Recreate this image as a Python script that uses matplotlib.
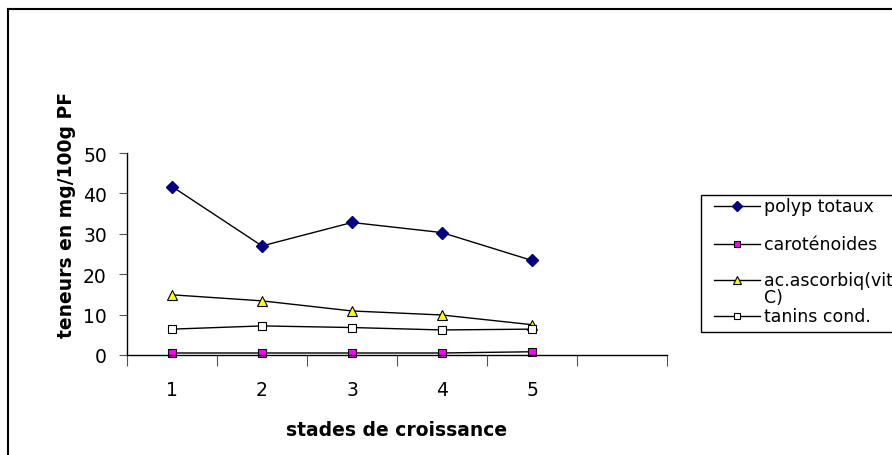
import matplotlib
matplotlib.use("Agg")
import matplotlib.pyplot as plt
from matplotlib.lines import Line2D
from matplotlib.patches import Rectangle

plt.rcParams['font.family'] = ['DejaVu Sans']

stades = [1, 2, 3, 4, 5]
categories = ["1", "2", "3", "4", "5", ""]
polyp_totaux = [41.7, 27.0, 32.8, 30.3, 23.4]
carotenoides = [0.5, 0.5, 0.5, 0.5, 0.8]
ac_ascorbiq = [14.9, 13.4, 10.9, 9.9, 7.5]
tanins_cond = [6.4, 7.2, 6.8, 6.2, 6.4]
labels = ["polyp totaux", "caroténoides", "ac.ascorbiq(vit\nC)", "tanins cond."]
yticks = [0, 10, 20, 30, 40, 50]

W, H = 892, 456
fig = plt.figure(figsize=(W / 100, H / 100), dpi=100)

def fx(px):
    return px / W

def fy(py):
    return 1 - py / H

# outer chart frame (top and left visible)
fig.add_artist(Line2D([fx(8), fx(8)], [fy(10), fy(460)], color='black', lw=1.5, transform=fig.transFigure))
fig.add_artist(Line2D([fx(8), fx(900)], [fy(10), fy(10)], color='black', lw=1.5, transform=fig.transFigure))

ax = fig.add_axes([fx(127), fy(356), fx(667) - fx(127), fy(154) - fy(356)])

styles = [
    dict(marker='D', mfc='#000080', mec='#000080', ms=6),
    dict(marker='s', mfc='#FF00FF', mec='black', ms=6, mew=0.8),
    dict(marker='^', mfc='#FFFF00', mec='black', ms=7, mew=0.8),
    dict(marker='s', mfc='white', mec='black', ms=6, mew=0.8),
]
series = [polyp_totaux, carotenoides, ac_ascorbiq, tanins_cond]
xs = [s - 0.5 for s in stades]
for vals, st in zip(series, styles):
    ax.plot(xs, vals, color='black', lw=1, clip_on=False, **st)

ax.set_xlim(0, len(categories))
ax.set_ylim(0, 50)
ax.set_yticks(yticks)
ax.set_yticklabels([str(v) for v in yticks], fontsize=13.5)
ax.set_xticks(range(len(categories) + 1))
ax.set_xticklabels([""] * (len(categories) + 1))
ax.set_xticks([c + 0.5 for c in range(len(categories))], minor=True)
ax.set_xticklabels(categories, minor=True, fontsize=13.5)
ax.tick_params(axis='x', which='minor', length=0, pad=18)
ax.tick_params(axis='x', which='major', length=8, direction='out', color='#555555')
ax.tick_params(axis='y', length=6, direction='out', color='#555555', pad=8.5)
for s in ['top', 'right']:
    ax.spines[s].set_visible(False)
ax.spines['left'].set_linewidth(1)
ax.spines['bottom'].set_linewidth(1)

ax.set_xlabel("stades de croissance", fontsize=13.5, fontweight='bold')
ax.xaxis.set_label_coords(0.5, (fy(421) - fy(356)) / (fy(154) - fy(356)))
ax.set_ylabel("teneurs en mg/100g PF", fontsize=13.5, fontweight='bold')
ax.yaxis.set_label_coords((fx(76) - fx(127)) / (fx(667) - fx(127)),
                          (fy(215) - fy(356)) / (fy(154) - fy(356)))

# legend box drawn manually to match layout
fig.add_artist(Rectangle((fx(701), fy(333)), fx(900) - fx(701), fy(196) - fy(333),
                         transform=fig.transFigure, fill=False, ec='black', lw=1))
entry_y = [207, 245, 281, 317]
for lab, st, ey in zip(labels, styles, entry_y):
    fig.add_artist(Line2D([fx(714), fx(760)], [fy(ey), fy(ey)], color='black', lw=1,
                          transform=fig.transFigure))
    st2 = dict(st)
    st2['ms'] = st['ms'] - 1
    fig.add_artist(Line2D([fx(737)], [fy(ey)], color='black', lw=0,
                          transform=fig.transFigure, **st2))
    fig.text(fx(764), fy(ey - 8.5), lab, fontsize=12.5, va='top', ha='left', linespacing=0.9)

fig.savefig("out.png", dpi=100)
